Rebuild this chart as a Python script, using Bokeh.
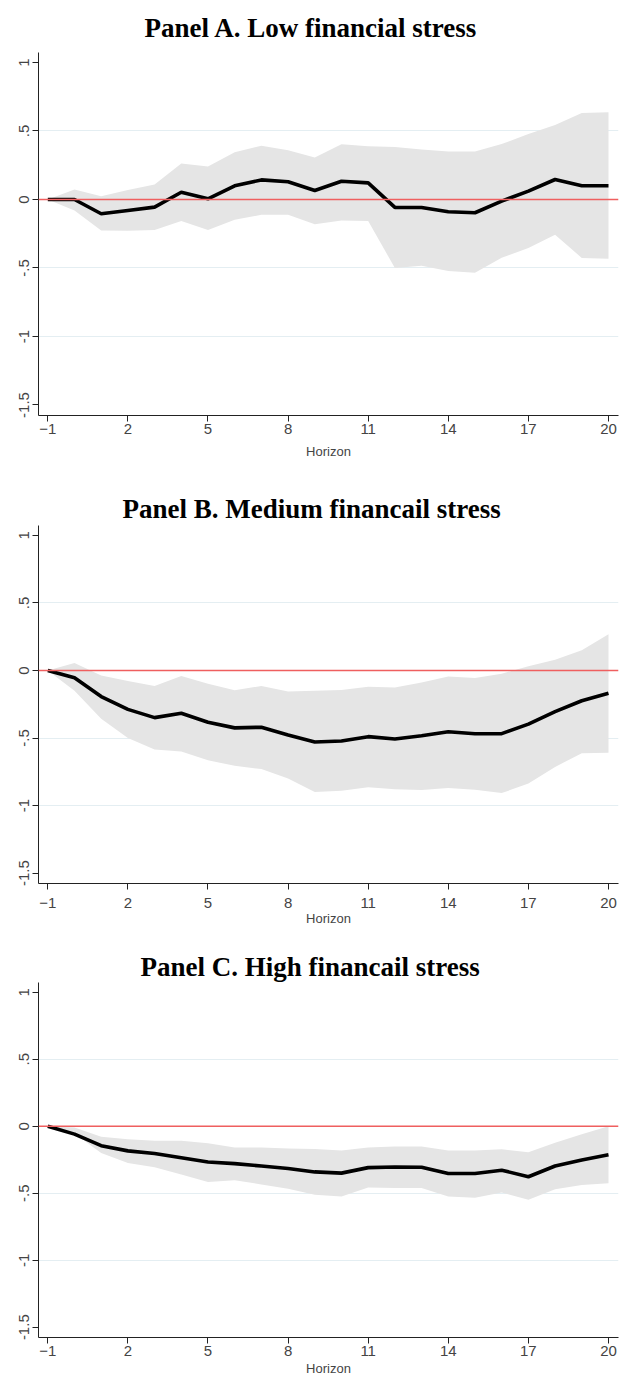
from bokeh.plotting import figure
from bokeh.layouts import column
from bokeh.models import FixedTicker, Span, Range1d
from bokeh.embed import file_html
from bokeh.resources import INLINE

# ---- data ----
horizon = list(range(-1, 21))
x_ticks = [-1, 2, 5, 8, 11, 14, 17, 20]
y_ticks = [1, 0.5, 0, -0.5, -1, -1.5]
y_tick_labels = ["1", ".5", "0", "-.5", "-1", "-1.5"]
grid_ticks = [0.5, 0, -0.5, -1]

titles = ["Panel A. Low financial stress",
          "Panel B. Medium financail stress",
          "Panel C. High financail stress"]

irf_a = [0.0, 0.0, -0.104, -0.08, -0.056, 0.053, 0.005, 0.10, 0.143, 0.129, 0.066,
         0.133, 0.121, -0.058, -0.058, -0.09, -0.097, -0.012, 0.061, 0.146, 0.10, 0.10]
up_a = [0.0, 0.073, 0.024, 0.07, 0.109, 0.262, 0.24, 0.345, 0.393, 0.359, 0.306,
        0.403, 0.388, 0.383, 0.364, 0.35, 0.35, 0.405, 0.478, 0.544, 0.631, 0.636]
lo_a = [0.0, -0.08, -0.226, -0.228, -0.223, -0.158, -0.223, -0.148, -0.112, -0.112, -0.18,
        -0.153, -0.158, -0.5, -0.483, -0.522, -0.534, -0.425, -0.354, -0.257, -0.427, -0.432]

irf_b = [0.0, -0.054, -0.193, -0.288, -0.349, -0.317, -0.383, -0.425, -0.42, -0.478, -0.53,
         -0.522, -0.49, -0.507, -0.483, -0.454, -0.468, -0.468, -0.397, -0.305, -0.224, -0.168]
up_b = [0.0, 0.056, -0.037, -0.078, -0.115, -0.041, -0.098, -0.146, -0.115, -0.156, -0.151,
        -0.144, -0.12, -0.127, -0.09, -0.044, -0.056, -0.024, 0.032, 0.08, 0.149, 0.268]
lo_b = [0.0, -0.151, -0.358, -0.5, -0.585, -0.6, -0.665, -0.706, -0.73, -0.8, -0.9,
        -0.89, -0.865, -0.88, -0.885, -0.87, -0.883, -0.908, -0.837, -0.714, -0.612, -0.609]

irf_c = [0.0, -0.059, -0.145, -0.184, -0.203, -0.235, -0.267, -0.279, -0.297, -0.316, -0.341,
         -0.35, -0.309, -0.304, -0.306, -0.353, -0.353, -0.328, -0.377, -0.297, -0.252, -0.213]
up_c = [0.0, -0.01, -0.078, -0.098, -0.108, -0.108, -0.127, -0.159, -0.159, -0.167, -0.169,
        -0.181, -0.159, -0.152, -0.152, -0.181, -0.181, -0.172, -0.194, -0.123, -0.059, 0.0]
lo_c = [0.0, -0.054, -0.2, -0.275, -0.306, -0.36, -0.417, -0.404, -0.434, -0.466, -0.512,
        -0.525, -0.458, -0.461, -0.461, -0.525, -0.534, -0.495, -0.549, -0.47, -0.439, -0.426]

series = [(irf_a, up_a, lo_a), (irf_b, up_b, lo_b), (irf_c, up_c, lo_c)]

# layout per panel: (height, top border, bottom border, title standoff, title offset,
#                    x label standoff, axis label standoff)
layout = [(489, 52, 74, 19, 106, 2, 7),
          (459, 32, 65, 4, 84, 8, 0),
          (431, 30, 42, 2, 102, 2, 2)]


def make_panel(title, irf, up, lo, h, bt, bb, tstand, toff, lstand, astand):
    p = figure(width=625, height=h, output_backend="svg", toolbar_location=None,
               x_range=Range1d(-1.348, 20.375), y_range=Range1d(-1.577, 1.073),
               min_border_left=38, min_border_right=7,
               min_border_top=bt, min_border_bottom=bb, title=title)
    p.title.text_font = "Liberation Serif"
    p.title.text_font_style = "bold"
    p.title.text_font_size = "27px"
    p.title.text_color = "black"
    p.title.align = "left"
    p.title.offset = toff
    p.title.standoff = tstand
    p.outline_line_color = None
    p.background_fill_color = "white"
    p.border_fill_color = "white"

    p.xgrid.visible = False
    p.ygrid.ticker = FixedTicker(ticks=grid_ticks)
    p.ygrid.grid_line_color = "#e4eef2"
    p.ygrid.grid_line_width = 1

    p.varea(x=horizon, y1=lo, y2=up, fill_color="#e5e5e5", fill_alpha=1.0)
    p.add_layout(Span(location=0, dimension="width", line_color="#ef5f5f", line_width=1.6))
    p.line(horizon, irf, line_color="black", line_width=3.6)

    xa = p.xaxis[0]
    xa.ticker = FixedTicker(ticks=x_ticks)
    xa.axis_label = "Horizon"
    xa.axis_label_text_font = "Liberation Sans"
    xa.axis_label_text_font_size = "13px"
    xa.axis_label_text_font_style = "normal"
    xa.axis_label_standoff = astand
    xa.major_label_text_font = "Liberation Sans"
    xa.major_label_text_font_size = "15px"
    xa.major_label_standoff = lstand
    xa.major_tick_out = 6
    xa.major_tick_in = 0
    xa.minor_tick_out = 0
    xa.minor_tick_in = 0
    xa.axis_line_color = "#222222"
    xa.major_tick_line_color = "#222222"

    ya = p.yaxis[0]
    ya.ticker = FixedTicker(ticks=y_ticks)
    ya.major_label_overrides = {t: l for t, l in zip(y_ticks, y_tick_labels)}
    ya.major_label_orientation = "parallel"
    ya.major_label_text_font = "Liberation Sans"
    ya.major_label_text_font_size = "15px"
    ya.major_label_standoff = 3
    ya.major_tick_out = 6
    ya.major_tick_in = 0
    ya.minor_tick_out = 0
    ya.minor_tick_in = 0
    ya.axis_line_color = "#222222"
    ya.major_tick_line_color = "#222222"
    return p


panels = []
for t, (irf, up, lo), (h, bt, bb, ts, to, ls, ast) in zip(titles, series, layout):
    panels.append(make_panel(t, irf, up, lo, h, bt, bb, ts, to, ls, ast))

page = column(*panels, spacing=0)
open("out.html", "w").write(file_html(page, INLINE))
